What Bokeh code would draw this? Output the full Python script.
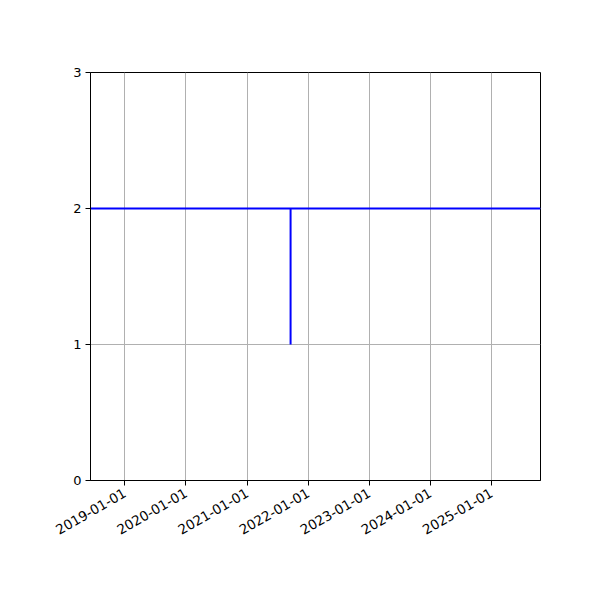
import math
from datetime import datetime

from bokeh.plotting import figure
from bokeh.models import FixedTicker, DatetimeTickFormatter, Range1d
from bokeh.embed import file_html
from bokeh.resources import INLINE

# data
dates = ["2018-06-10", "2021-09-18", "2021-09-18", "2021-09-18", "2025-10-21"]
values = [2, 2, 1, 2, 2]
tick_years = [2019, 2020, 2021, 2022, 2023, 2024, 2025]
y_ticks = [0, 1, 2, 3]

FONT = "DejaVu Sans"

def ms(d):
    return datetime.strptime(d, "%Y-%m-%d").timestamp() * 1000

xs = [datetime.strptime(d, "%Y-%m-%d") for d in dates]

p = figure(width=600, height=600, x_axis_type="datetime",
           output_backend="svg", toolbar_location=None,
           x_range=Range1d(xs[0], xs[-1]), y_range=Range1d(0, 3),
           min_border_left=90, min_border_right=60,
           min_border_top=72, min_border_bottom=120)

p.line(xs, values, line_color="#0000ff", line_width=2)

p.xaxis.ticker = FixedTicker(ticks=[ms(f"{y}-01-01") for y in tick_years])
fmt = "%Y-%m-%d"
p.xaxis.formatter = DatetimeTickFormatter(years=fmt, months=fmt, days=fmt,
                                          hours=fmt, minutes=fmt, seconds=fmt,
                                          milliseconds=fmt, microseconds=fmt)
p.xaxis.major_label_orientation = math.pi / 6
p.yaxis.ticker = FixedTicker(ticks=y_ticks)

for ax in (p.xaxis, p.yaxis):
    ax.axis_line_color = "black"
    ax.axis_line_width = 1
    ax.major_tick_line_color = "black"
    ax.major_tick_out = 5
    ax.major_tick_in = 0
    ax.minor_tick_line_color = None
    ax.major_label_text_font = FONT
    ax.major_label_text_font_size = "13px"
    ax.major_label_text_color = "black"
    ax.major_label_standoff = 4

# rotated date labels sit a touch lower in the reference
p.xaxis.major_label_text_font_size = "13.5px"
p.xaxis.major_label_standoff = 6

p.grid.grid_line_color = "#b0b0b0"
p.grid.grid_line_width = 1
p.outline_line_color = "black"
p.outline_line_width = 1
p.background_fill_color = "white"
p.border_fill_color = "white"

open("out.html", "w").write(file_html(p, INLINE))
